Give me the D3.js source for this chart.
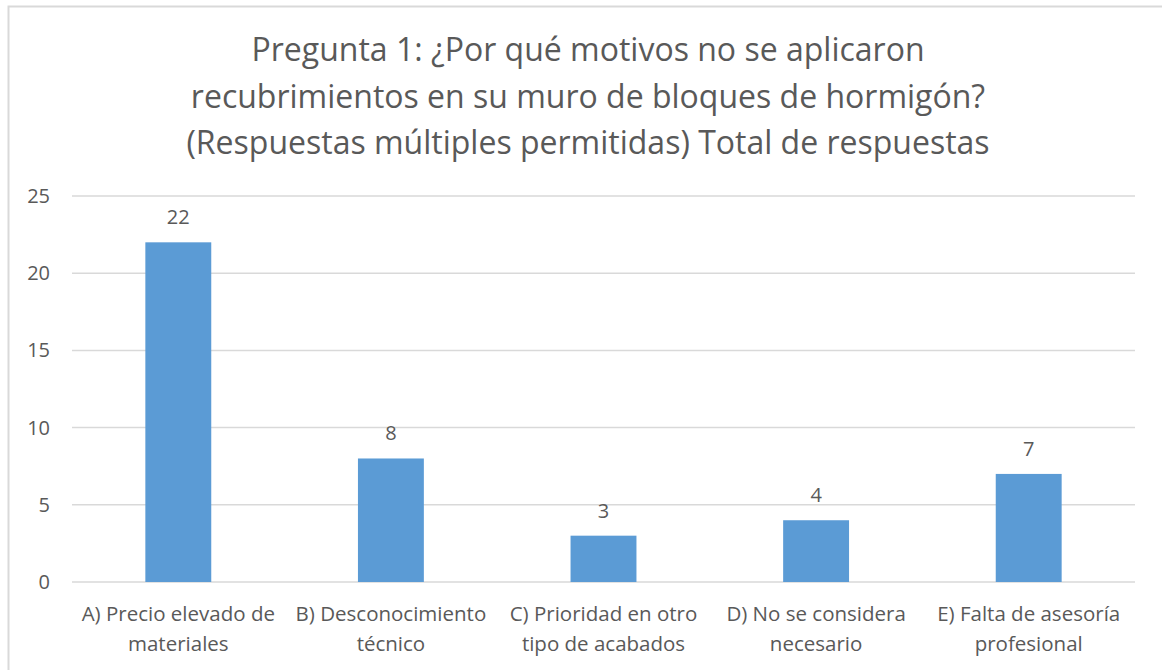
<!DOCTYPE html>
<meta charset="utf-8">
<style>
body { margin: 0; background: #fff; }
text { font-family: "Open Sans", Lato, sans-serif; fill: #595959; }
</style>
<svg width="1162" height="670"></svg>
<script src="https://d3js.org/d3.v7.min.js"></script>
<script>

var titulo = [
  "Pregunta 1: ¿Por qué motivos no se aplicaron",
  "recubrimientos en su muro de bloques de hormigón?",
  "(Respuestas múltiples permitidas) Total de respuestas"
];

var categorias = [
  ["A) Precio elevado de", "materiales"],
  ["B) Desconocimiento", "técnico"],
  ["C) Prioridad en otro", "tipo de acabados"],
  ["D) No se considera", "necesario"],
  ["E) Falta de asesoría", "profesional"]
];

var valores = [22, 8, 3, 4, 7];
var ticksY = [0, 5, 10, 15, 20, 25];

var svg = d3.select("svg"),
    margin = {top: 196, right: 27, bottom: 88, left: 72},
    width = 1162 - margin.left - margin.right,
    height = 670 - margin.top - margin.bottom;

// chart border
svg.append("rect")
    .attr("x", 8.5).attr("y", 6.5)
    .attr("width", 1170).attr("height", 680)
    .attr("fill", "none")
    .attr("stroke", "#d9d9d9")
    .attr("stroke-width", 2);

svg.append("text")
    .attr("x", 588)
    .attr("y", 61)
    .attr("text-anchor", "middle")
    .style("font-size", "32px")
  .selectAll("tspan")
  .data(titulo)
  .enter().append("tspan")
    .attr("x", 588)
    .attr("dy", function(d, i) { return i ? 46.5 : 0; })
    .text(function(d) { return d; });

var g = svg.append("g").attr("transform", "translate(" + margin.left + "," + margin.top + ")");

var x = d3.scaleBand()
    .domain(d3.range(valores.length))
    .range([0, width])
    .paddingInner(0.69)
    .paddingOuter(0.345);

var y = d3.scaleLinear().domain([0, 25]).range([height, 0]);

// gridlines
g.append("g")
    .selectAll("line")
    .data(ticksY)
    .enter().append("line")
    .attr("x1", 0).attr("x2", width)
    .attr("y1", function(d) { return y(d); })
    .attr("y2", function(d) { return y(d); })
    .attr("stroke", "#d9d9d9")
    .attr("stroke-width", 1.5);

var yAxis = g.append("g")
    .call(d3.axisLeft(y).tickValues(ticksY).tickSize(0).tickPadding(22));
yAxis.select(".domain").remove();
yAxis.selectAll("text").style("font-size", "20px").attr("fill", "#595959");

g.selectAll(".bar")
    .data(valores)
    .enter().append("rect")
    .attr("class", "bar")
    .attr("x", function(d, i) { return x(i); })
    .attr("y", function(d) { return y(d); })
    .attr("width", x.bandwidth())
    .attr("height", function(d) { return height - y(d); })
    .attr("fill", "#5b9bd5");

g.selectAll(".etiqueta")
    .data(valores)
    .enter().append("text")
    .attr("class", "etiqueta")
    .attr("x", function(d, i) { return x(i) + x.bandwidth() / 2; })
    .attr("y", function(d) { return y(d) - 18; })
    .attr("text-anchor", "middle")
    .style("font-size", "20px")
    .text(function(d) { return d; });

var cat = g.selectAll(".cat")
    .data(categorias)
    .enter().append("text")
    .attr("class", "cat")
    .attr("text-anchor", "middle")
    .style("font-size", "20.5px");

cat.selectAll("tspan")
    .data(function(d, i) { return d.map(function(t) { return {t: t, i: i}; }); })
    .enter().append("tspan")
    .attr("x", function(d) { return x(d.i) + x.bandwidth() / 2; })
    .attr("y", function(d, j) { return height + 39 + j * 30; })
    .text(function(d) { return d.t; });

</script>
